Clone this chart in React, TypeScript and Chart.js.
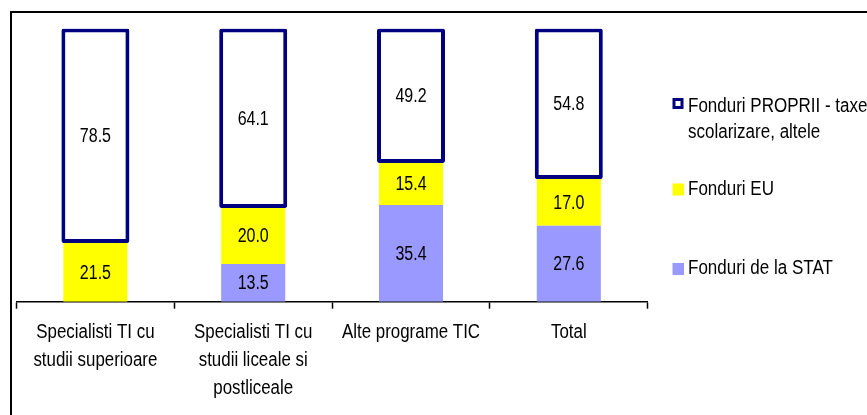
import React, { useEffect, useRef } from "react";
import { Chart, registerables } from "chart.js";

Chart.register(...registerables);

const categories: string[][] = [
  ["Specialisti TI cu", "studii superioare"],
  ["Specialisti TI cu", "studii liceale si", "postliceale"],
  ["Alte programe TIC"],
  ["Total"],
];
const fonduriStat = [0, 13.5, 35.4, 27.6];
const fonduriEU = [21.5, 20.0, 15.4, 17.0];
const fonduriProprii = [78.5, 64.1, 49.2, 54.8];
const seriesNames = ["Fonduri de la STAT", "Fonduri EU", "Fonduri PROPRII - taxe scolarizare, altele"];

const FONT = "'Liberation Sans', Arial, sans-serif";
const NAVY = "#000080";
const YELLOW = "#FFFF00";
const PURPLE = "#9999FF";

export default function App() {
  const ref = useRef<HTMLCanvasElement>(null);
  useEffect(() => {
    if (!ref.current) return;
    const totals = categories.map((_, i) => fonduriStat[i] + fonduriEU[i] + fonduriProprii[i]);
    const pct = (arr: number[]) => arr.map((v, i) => (v / totals[i]) * 100);
    const raws = [fonduriStat, fonduriEU, fonduriProprii];
    const stretch = { value: 0.845 };

    // condensed text (Arial Narrow look) by horizontal scaling of every text draw
    const narrowPlugin = {
      id: "narrowText",
      beforeDraw(chart: any) {
        const ctx = chart.ctx;
        if (ctx.__narrow) return;
        const orig = ctx.fillText.bind(ctx);
        ctx.fillText = (text: string, x: number, y: number, maxWidth?: number) => {
          ctx.save();
          ctx.translate(x, y);
          ctx.scale(stretch.value, 1);
          if (maxWidth !== undefined) orig(text, 0, 0, maxWidth / stretch.value);
          else orig(text, 0, 0);
          ctx.restore();
        };
        ctx.__narrow = true;
      },
    };

    const framePlugin = {
      id: "frame",
      afterDraw(chart: any) {
        const ctx = chart.ctx;
        ctx.save();
        ctx.strokeStyle = "#000";
        ctx.lineWidth = 2;
        ctx.beginPath();
        ctx.moveTo(11, 415);
        ctx.lineTo(11, 12);
        ctx.lineTo(867, 12);
        ctx.stroke();
        ctx.restore();
      },
    };

    const labelPlugin = {
      id: "valueLabels",
      afterDatasetsDraw(chart: any) {
        const ctx = chart.ctx;
        ctx.save();
        stretch.value = 0.8;
        ctx.font = `20px ${FONT}`;
        ctx.fillStyle = "#000";
        ctx.textAlign = "center";
        ctx.textBaseline = "middle";
        chart.data.datasets.forEach((ds: any, di: number) => {
          const meta = chart.getDatasetMeta(di);
          meta.data.forEach((el: any, i: number) => {
            const v = raws[di][i];
            if (!v) return;
            const p = el.getProps(["x", "y", "base"], true);
            ctx.fillText(v.toFixed(1), p.x, (p.y + p.base) / 2 + 1);
          });
        });
        stretch.value = 0.845;
        ctx.restore();
      },
    };

    const legendPlugin = {
      id: "customLegend",
      afterDraw(chart: any) {
        const ctx = chart.ctx;
        ctx.save();
        stretch.value = 0.85;
        ctx.font = `20px ${FONT}`;
        ctx.textAlign = "left";
        ctx.textBaseline = "middle";
        const mx = 672.5;
        const tx = 688;
        // PROPRII
        ctx.fillStyle = "#fff";
        ctx.fillRect(mx, 98, 11, 11);
        ctx.strokeStyle = NAVY;
        ctx.lineWidth = 3;
        ctx.strokeRect(mx + 1.5, 99.5, 8, 8);
        ctx.fillStyle = "#000";
        ctx.fillText("Fonduri PROPRII - taxe", tx, 106);
        ctx.fillText("scolarizare, altele", tx, 132);
        // EU
        ctx.fillStyle = YELLOW;
        ctx.fillRect(mx, 183.5, 11.5, 12);
        ctx.fillStyle = "#000";
        ctx.fillText(seriesNames[1], tx, 189);
        // STAT
        ctx.fillStyle = PURPLE;
        ctx.fillRect(mx, 263, 11.5, 12);
        ctx.fillStyle = "#000";
        ctx.fillText(seriesNames[0], tx, 268.5);
        stretch.value = 0.845;
        ctx.restore();
      },
    };

    const chart = new Chart(ref.current, {
      type: "bar",
      data: {
        labels: categories,
        datasets: [
          {
            label: seriesNames[0],
            data: pct(fonduriStat),
            backgroundColor: PURPLE,
            borderWidth: 0,
            categoryPercentage: 1,
            barPercentage: 0.406,
          },
          {
            label: seriesNames[1],
            data: pct(fonduriEU),
            backgroundColor: YELLOW,
            borderWidth: 0,
            categoryPercentage: 1,
            barPercentage: 0.406,
          },
          {
            label: seriesNames[2],
            data: pct(fonduriProprii),
            backgroundColor: "#fff",
            borderColor: NAVY,
            borderWidth: 4,
            borderSkipped: false,
            borderRadius: 2,
            categoryPercentage: 1,
            barPercentage: 0.431,
          },
        ],
      },
      options: {
        animation: false,
        responsive: false,
        layout: { padding: { left: 16.5, right: 219.3, top: 28.5, bottom: 0 } },
        plugins: { legend: { display: false }, tooltip: { enabled: false } },
        scales: {
          x: {
            stacked: true,
            afterFit(scale: any) {
              scale.height = 415 - 301.7;
            },
            grid: {
              display: true,
              drawOnChartArea: false,
              drawTicks: true,
              tickLength: 7,
              tickColor: "#000",
              tickWidth: 1.5,
              offset: true,
            },
            border: { display: true, color: "#000", width: 1.5 },
            ticks: {
              color: "#000",
              font: { family: FONT, size: 20, lineHeight: 1.4 },
              padding: 10,
              maxRotation: 0,
              autoSkip: false,
            },
          },
          y: {
            stacked: true,
            display: false,
            min: 0,
            max: 100,
          },
        },
      },
      plugins: [narrowPlugin, labelPlugin, legendPlugin, framePlugin],
    } as any);
    return () => chart.destroy();
  }, []);
  return (
    <div style={{ position: "fixed", left: 0, top: 0, width: 867, height: 415, background: "#fff" }}>
      <canvas ref={ref} width={867} height={415} style={{ display: "block" }} />
    </div>
  );
}
